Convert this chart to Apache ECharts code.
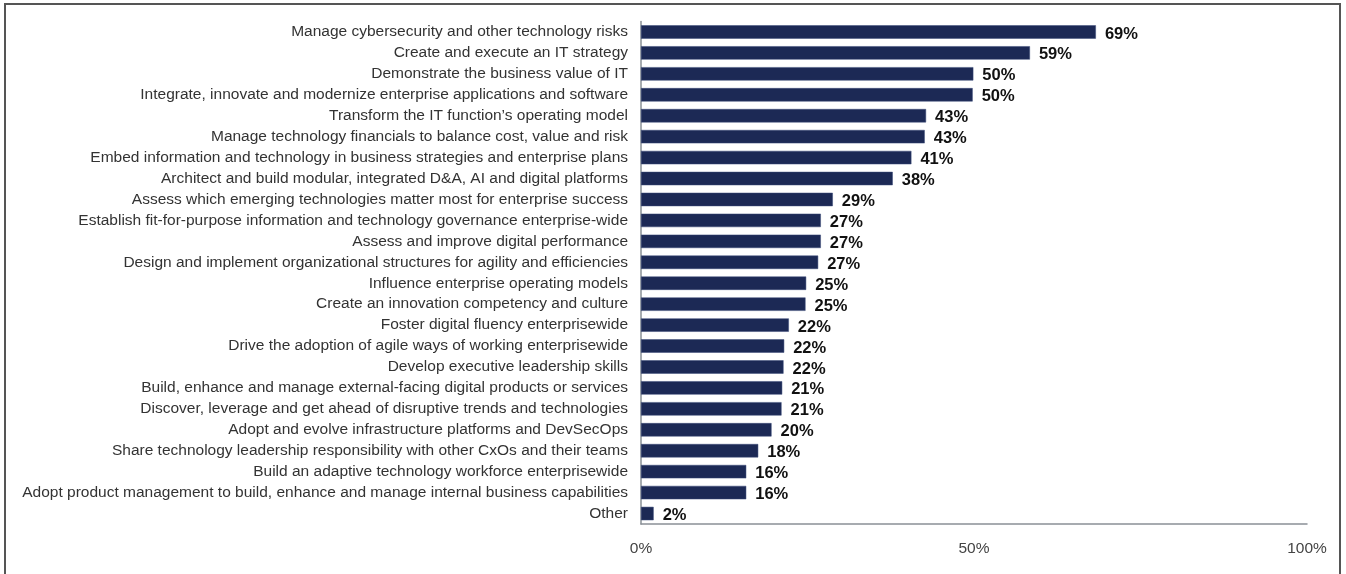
<!DOCTYPE html>
<html><head><meta charset="utf-8">
<script src="https://cdn.jsdelivr.net/npm/echarts@6/dist/echarts.min.js"></script>
<style>html,body{margin:0;padding:0;background:#fff}#c{width:1346px;height:574px}</style>
</head><body><div id="c"></div>
<script>
const categories = [
"Manage cybersecurity and other technology risks",
"Create and execute an IT strategy",
"Demonstrate the business value of IT",
"Integrate, innovate and modernize enterprise applications and software",
"Transform the IT function’s operating model",
"Manage technology financials to balance cost, value and risk",
"Embed information and technology in business strategies and enterprise plans",
"Architect and build modular, integrated D&A, AI and digital platforms",
"Assess which emerging technologies matter most for enterprise success",
"Establish fit-for-purpose information and technology governance enterprise-wide",
"Assess and improve digital performance",
"Design and implement organizational structures for agility and efficiencies",
"Influence enterprise operating models",
"Create an innovation competency and culture",
"Foster digital fluency enterprisewide",
"Drive the adoption of agile ways of working enterprisewide",
"Develop executive leadership skills",
"Build, enhance and manage external-facing digital products or services",
"Discover, leverage and get ahead of disruptive trends and technologies",
"Adopt and evolve infrastructure platforms and DevSecOps",
"Share technology leadership responsibility with other CxOs and their teams",
"Build an adaptive technology workforce enterprisewide",
"Adopt product management to build, enhance and manage internal business capabilities",
"Other"
];
const values = [68.3, 58.4, 49.9, 49.8, 42.8, 42.6, 40.6, 37.8, 28.8, 27.0, 27.0, 26.6, 24.8, 24.7, 22.2, 21.5, 21.4, 21.2, 21.1, 19.6, 17.6, 15.8, 15.8, 1.9];
const valueLabels = ["69%","59%","50%","50%","43%","43%","41%","38%","29%","27%","27%","27%","25%","25%","22%","22%","22%","21%","21%","20%","18%","16%","16%","2%"];
const xTicks = [0, 50, 100];

const chart = echarts.init(document.getElementById('c'), null, {renderer:'canvas'});
chart.setOption({
  animation:false,
  textStyle:{fontFamily:'Liberation Sans, Arial, sans-serif'},
  graphic:[{type:'rect', shape:{x:5,y:4,width:1335,height:600}, style:{fill:'none', stroke:'#555', lineWidth:2}, silent:true, z:-1}],
  grid:{left:641, right:39, top:21.5, bottom:50, containLabel:false},
  xAxis:{type:'value', min:0, max:100, interval:50,
    axisLine:{show:true, lineStyle:{color:'#8a9096', width:1.5}},
    axisTick:{show:false}, splitLine:{show:false},
    axisLabel:{formatter:v=>xTicks.includes(v)?v+'%':'', color:'#444', fontSize:15.5, margin:17, fontFamily:'Liberation Sans, Arial, sans-serif'}},
  yAxis:{type:'category', inverse:true, data:categories,
    axisLine:{show:true, lineStyle:{color:'#8a9096', width:1.5}},
    axisTick:{show:false},
    axisLabel:{color:'#333', fontSize:15.5, margin:13, padding:[3,0,0,0], fontFamily:'Liberation Sans, Arial, sans-serif'}},
  series:[{type:'bar', data:values, barWidth:'64%',
    itemStyle:{color:'#1c2955', borderColor:'#3a4a78', borderWidth:0.5},
    label:{show:true, position:'right', distance:9, offset:[0,2], color:'#111', fontWeight:'bold', fontSize:16.5,
      fontFamily:'Liberation Sans, Arial, sans-serif',
      formatter:p=>valueLabels[p.dataIndex]}}]
});
</script></body></html>
